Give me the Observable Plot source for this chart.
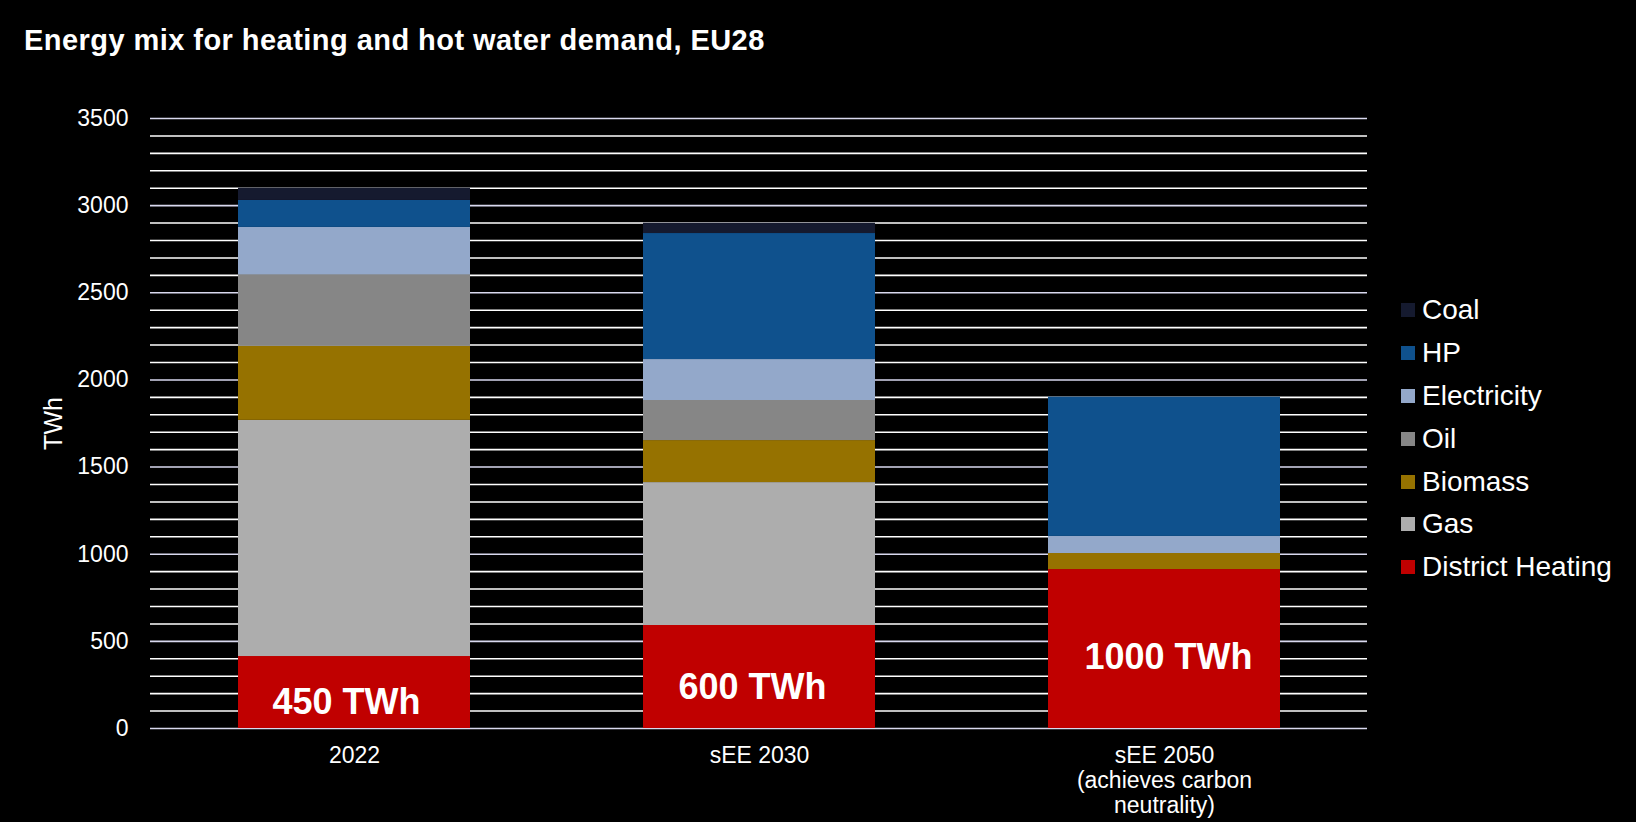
<!DOCTYPE html>
<html><head><meta charset="utf-8">
<script src="https://cdn.jsdelivr.net/npm/d3@7"></script>
<script src="https://cdn.jsdelivr.net/npm/@observablehq/plot@0.6"></script>
<style>
html,body{margin:0;padding:0;background:#000;}
#wrap{position:relative;width:1636px;height:822px;background:#000;font-family:"Liberation Sans",Arial,sans-serif;color:#fff;overflow:hidden}
#title{position:absolute;left:24px;top:25.5px;font-size:29px;font-weight:bold;line-height:1;white-space:nowrap;letter-spacing:0.45px}
#chart{position:absolute;left:0;top:70px}
#legend{position:absolute;left:1401px;top:288.5px}
.item{display:flex;align-items:center;height:42.9px;font-size:28px;white-space:nowrap}
.sw{width:14px;height:14px;margin-right:7px;flex:none}
</style>
</head>
<body>
<div id="wrap">
  <div id="title">Energy mix for heating and hot water demand, EU28</div>
  <div id="chart"></div>
  <div id="legend"></div>
</div>
<script>
// ---- data ----
const scenarios = ["2022", "sEE 2030", "sEE 2050"];
const scenarioLabels = ["2022", "sEE 2030", "sEE 2050\n(achieves carbon\nneutrality)"];
const sources = ["District Heating", "Gas", "Biomass", "Oil", "Electricity", "HP", "Coal"];
const sourceColors = ["#c00000", "#adadad", "#967200", "#868686", "#93a8ca", "#0f518d", "#151a2f"];
const districtHeating = [413, 591, 912];
const gas = [1355, 820, 0];
const biomass = [425, 241, 92];
const oil = [410, 230, 0];
const electricity = [272, 235, 98];
const hp = [155, 723, 799];
const coal = [70, 59, 0];
const dhLabels = ["450 TWh", "600 TWh", "1000 TWh"];
const dhLabelHeight = [149, 235, 407];
const yTicks = [0, 500, 1000, 1500, 2000, 2500, 3000, 3500];
const yMinorStep = 100;

// ---- build table ----
const seriesValues = [districtHeating, gas, biomass, oil, electricity, hp, coal];
const table = [];
scenarios.forEach((s, i) => {
  sources.forEach((src, j) => {
    table.push({scenario: s, source: src, value: seriesValues[j][i]});
  });
});
const minorTicks = d3.range(0, 3500 + 1, yMinorStep).filter(v => !yTicks.includes(v));
const labelDx = [-8, -7, 4];

const chart = Plot.plot({
  width: 1636,
  height: 752,
  marginLeft: 150,
  marginRight: 269,
  marginTop: 48,
  marginBottom: 94,
  style: {background: "#000", color: "#fff", fontFamily: "'Liberation Sans', Arial, sans-serif", fontSize: "23px"},
  x: {domain: scenarios, paddingInner: 0.428, paddingOuter: 0.214, label: null},
  y: {domain: [0, 3500], label: null},
  color: {domain: sources, range: sourceColors},
  marks: [
    Plot.ruleY(minorTicks, {stroke: "#ffffff", strokeWidth: 1.6}),
    Plot.ruleY(yTicks, {stroke: "#d9d9ef", strokeWidth: 1.6}),
    Plot.barY(table, {x: "scenario", y: "value", fill: "source", order: sources}),
    Plot.axisY({ticks: yTicks, tickSize: 0, tickPadding: 22, fontSize: 23, label: null, tickFormat: d3.format("d")}),
    Plot.axisX({tickSize: 0, tickPadding: 17, fontSize: 23, lineHeight: 1.09, label: null,
      tickFormat: d => scenarioLabels[scenarios.indexOf(d)]}),
    Plot.text(["TWh"], {frameAnchor: "left", textAnchor: "middle", rotate: -90, dx: -97, fontSize: 25, fill: "#fff"}),
    ...dhLabels.map((t, i) => Plot.text([t], {
      x: () => scenarios[i], y: () => dhLabelHeight[i], text: d => d,
      dx: labelDx[i], fontSize: 36, fontWeight: "bold", fill: "#fff", lineAnchor: "middle"
    }))
  ]
});
document.getElementById("chart").appendChild(chart);

// ---- legend (top to bottom = reverse stack order) ----
const legend = document.getElementById("legend");
sources.slice().reverse().forEach(src => {
  const item = document.createElement("div");
  item.className = "item";
  const sw = document.createElement("div");
  sw.className = "sw";
  sw.style.background = sourceColors[sources.indexOf(src)];
  const lab = document.createElement("span");
  lab.textContent = src;
  item.appendChild(sw);
  item.appendChild(lab);
  legend.appendChild(item);
});
</script>
</body></html>
